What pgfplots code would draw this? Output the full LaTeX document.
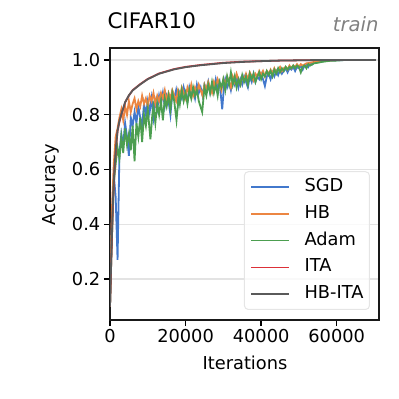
\documentclass[border=0pt]{standalone}
\usepackage{pgfplots}
\pgfplotsset{compat=1.18}
\usepackage{fontspec}
\setmainfont{DejaVu Sans}

\definecolor{cSGD}{RGB}{66,120,204}
\definecolor{cHB}{RGB}{236,134,66}
\definecolor{cAdam}{RGB}{76,158,80}
\definecolor{cITA}{RGB}{220,48,56}
\definecolor{cHBITA}{RGB}{90,90,90}

\newcommand{\tickfont}{\fontsize{17.8}{20}\selectfont}

\begin{document}
\begin{tikzpicture}
\path[use as bounding box] (0pt,0pt) rectangle (399pt,399pt);

\begin{axis}[
    at={(110pt,79pt)}, anchor=south west,
    width=269pt, height=272pt, scale only axis,
    xmin=0, xmax=71200,
    ymin=0.05, ymax=1.044,
    xtick={0,20000,40000,60000},
    ytick={0.2,0.4,0.6,0.8,1.0},
    scaled x ticks=false,
    x tick label style={/pgf/number format/1000 sep={}},
    y tick label style={/pgf/number format/fixed,
        /pgf/number format/fixed zerofill,
        /pgf/number format/precision=1},
    /pgf/number format/assume math mode=true,
    tick label style={font=\tickfont},
    tick align=outside, tick pos=left,
    major tick length=6.2pt,
    every tick/.style={black, line width=1.4pt},
    ymajorgrids,
    grid style={gray!22, line width=1.4pt},
    axis line style={black!90, line width=1.4pt},
    legend cell align=left,
    legend image code/.code={\draw[#1, line width=1.5pt] (0pt,0pt) -- (38pt,0pt);},
    legend style={at={(0.9665,0.0368)}, anchor=south east,
        draw=gray!20, line width=1pt, rounded corners=4pt,
        fill=white, fill opacity=0.8, text opacity=1,
        font=\tickfont, inner xsep=6pt, inner ysep=7pt,
        row sep=9.7pt,
        nodes={inner sep=0pt, text height=13pt, text depth=4pt},
        /tikz/every odd column/.append style={column sep=14.7pt}},
    every axis plot/.append style={line width=1.8pt},
]

% SGD
\addplot[color=cSGD] coordinates {
(0,0.10)(500,0.42)(1000,0.58)(1500,0.50)(2000,0.27)(2500,0.66)(3000,0.73)(3500,0.69)
(4000,0.77)(4500,0.72)(5000,0.65)(5500,0.79)(6000,0.76)(6500,0.81)(7000,0.77)(7500,0.83)
(8000,0.79)(8500,0.76)(9000,0.84)(9500,0.80)(10000,0.85)(10500,0.81)(11000,0.86)(11500,0.79)
(12000,0.85)(12500,0.82)(13000,0.87)(13500,0.84)(14000,0.88)(14500,0.83)(15000,0.87)(15500,0.85)
(16000,0.80)(16500,0.88)(17000,0.86)(17500,0.89)(18000,0.84)(18500,0.88)(19000,0.86)(19500,0.90)
(20000,0.87)(20500,0.85)(21000,0.90)(21500,0.87)(22000,0.89)(22500,0.86)(23000,0.91)(23500,0.88)
(24000,0.90)(24500,0.87)(25000,0.91)(25500,0.89)(26000,0.92)(26500,0.88)(27000,0.91)(27500,0.89)
(28000,0.93)(28500,0.90)(29000,0.92)(29700,0.82)(30200,0.91)(30500,0.93)(31000,0.90)(31500,0.92)
(32000,0.89)(32500,0.93)(33000,0.91)(33500,0.94)(34000,0.90)(34500,0.93)(35000,0.91)(35500,0.94)
(36000,0.92)(36500,0.90)(37000,0.94)(37500,0.92)(38000,0.95)(38500,0.92)(39000,0.94)(39500,0.93)
(40000,0.95)(40500,0.93)(41000,0.905)(41500,0.94)(42000,0.95)(42500,0.93)(43000,0.955)(43500,0.94)
(44000,0.96)(44500,0.945)(45000,0.965)(45500,0.95)(46000,0.96)(46500,0.97)(47000,0.955)(47500,0.97)
(48000,0.965)(48500,0.975)(49000,0.96)(49500,0.975)(50000,0.97)(50500,0.98)(51000,0.965)(51500,0.98)
(52000,0.985)(52500,0.975)(53000,0.988)(53500,0.984)(54000,0.99)(55000,0.993)(56000,0.995)
(57000,0.997)(58000,0.998)(60000,0.999)(62000,1.0)(70400,1.0)
};
\addlegendentry{SGD}

% HB
\addplot[color=cHB] coordinates {
(0,0.10)(500,0.45)(1000,0.62)(1500,0.72)(2000,0.75)(2500,0.79)(3000,0.82)(3500,0.78)
(4000,0.83)(4500,0.80)(5000,0.85)(5500,0.81)(6000,0.84)(6500,0.86)(7000,0.82)(7500,0.85)
(8000,0.83)(8500,0.87)(9000,0.84)(9500,0.86)(10000,0.83)(10500,0.87)(11000,0.85)(11500,0.88)
(12000,0.84)(12500,0.87)(13000,0.85)(13500,0.88)(14000,0.86)(14500,0.89)(15000,0.85)(15500,0.88)
(16000,0.86)(16500,0.89)(17000,0.87)(17500,0.85)(18000,0.89)(18500,0.87)(19000,0.90)(19500,0.88)
(20000,0.86)(20500,0.90)(21000,0.88)(21500,0.91)(22000,0.87)(22500,0.90)(23000,0.88)(23500,0.91)
(24000,0.89)(24500,0.87)(25000,0.91)(25500,0.89)(26000,0.92)(26500,0.90)(27000,0.88)(27500,0.92)
(28000,0.90)(28500,0.93)(29000,0.91)(29500,0.89)(30000,0.93)(30500,0.91)(31000,0.94)(31500,0.92)
(32000,0.90)(32500,0.94)(33000,0.92)(33500,0.95)(34000,0.93)(34500,0.91)(35000,0.94)(35500,0.93)
(36000,0.95)(36500,0.93)(37000,0.955)(37500,0.94)(38000,0.925)(38500,0.95)(39000,0.94)(39500,0.96)
(40000,0.945)(40500,0.96)(41000,0.94)(41500,0.96)(42000,0.95)(42500,0.965)(43000,0.95)(43500,0.97)
(44000,0.955)(44500,0.965)(45000,0.975)(45500,0.96)(46000,0.97)(46500,0.975)(47000,0.965)(47500,0.98)
(48000,0.97)(48500,0.98)(49000,0.975)(49500,0.985)(50000,0.975)(50500,0.985)(51000,0.98)
(52000,0.988)(53000,0.99)(54000,0.993)(55000,0.995)(56000,0.997)(58000,0.998)(60000,1.0)(70400,1.0)
};
\addlegendentry{HB}

% Adam
\addplot[color=cAdam] coordinates {
(0,0.10)(500,0.35)(1000,0.55)(1500,0.62)(2000,0.68)(2500,0.64)(3000,0.72)(3500,0.66)
(4000,0.75)(4500,0.69)(5000,0.73)(5500,0.67)(6000,0.76)(6500,0.63)(7000,0.77)(7500,0.72)
(8000,0.79)(8500,0.70)(9000,0.80)(9500,0.76)(10000,0.82)(10700,0.71)(11200,0.80)(11500,0.83)
(12000,0.77)(12500,0.84)(13000,0.80)(13500,0.85)(14000,0.78)(14500,0.86)(15000,0.83)(15500,0.87)
(16000,0.82)(16500,0.88)(17000,0.85)(17600,0.78)(18200,0.87)(18500,0.84)(19000,0.89)(19500,0.85)
(20000,0.88)(20500,0.84)(21000,0.89)(21500,0.86)(22000,0.90)(22500,0.87)(23000,0.89)(23500,0.85)
(24400,0.81)(25000,0.90)(25500,0.87)(26000,0.91)(26500,0.88)(27000,0.92)(27500,0.88)(28000,0.91)
(28500,0.87)(29000,0.92)(29500,0.90)(30000,0.93)(30500,0.89)(31000,0.94)(31500,0.91)(32000,0.955)
(32500,0.91)(33000,0.94)(33500,0.90)(34000,0.93)(34500,0.91)(35000,0.945)(35500,0.92)(36000,0.94)
(36500,0.91)(37000,0.95)(37500,0.93)(38000,0.95)(38500,0.92)(39000,0.94)(39500,0.955)(40000,0.93)
(40500,0.95)(41000,0.94)(41500,0.96)(42000,0.945)(42500,0.96)(43000,0.94)(43500,0.965)(44000,0.95)
(44500,0.97)(45000,0.955)(45500,0.97)(46000,0.96)(46500,0.975)(47000,0.965)(47500,0.975)(48000,0.97)
(48500,0.98)(49000,0.97)(49500,0.98)(50000,0.975)(50500,0.955)(51000,0.975)(51500,0.98)(52000,0.97)
(52500,0.985)(53000,0.98)(54000,0.988)(55000,0.99)(56000,0.993)(57000,0.995)(58000,0.997)
(60000,0.998)(62000,1.0)(70400,1.0)
};
\addlegendentry{Adam}

% ITA
\addplot[color=cITA] coordinates {
(0,0.10)(400,0.30)(800,0.48)(1200,0.60)(1600,0.68)(2000,0.74)(2500,0.775)(3000,0.80)
(4000,0.845)(5000,0.87)(6000,0.89)(8000,0.912)(10000,0.931)(13000,0.951)(17000,0.967)
(20000,0.975)(24000,0.982)(30000,0.99)(35000,0.994)(40000,0.996)(45000,0.998)
(50000,0.999)(55000,1.0)(70400,1.0)
};
\addlegendentry{ITA}

% HB-ITA
\addplot[color=cHBITA] coordinates {
(0,0.10)(400,0.31)(800,0.49)(1200,0.61)(1600,0.685)(2000,0.742)(2500,0.777)(3000,0.802)
(4000,0.846)(5000,0.871)(6000,0.889)(8000,0.911)(10000,0.93)(13000,0.95)(17000,0.966)
(20000,0.974)(24000,0.981)(30000,0.989)(35000,0.993)(40000,0.996)(45000,0.998)
(50000,0.999)(55000,1.0)(70400,1.0)
};
\addlegendentry{HB-ITA}
\end{axis}

\node[anchor=base west, font=\fontsize{21.4}{24}\selectfont] at (104pt,370pt) {CIFAR10};
\node[anchor=base east, text=gray, font=\fontsize{19.6}{22}\itshape] at (382pt,367pt) {train};
\node[anchor=base, font=\tickfont] at (245pt,29pt) {Iterations};
\node[rotate=90, font=\tickfont] at (51pt,214pt) {Accuracy};
\end{tikzpicture}
\end{document}
